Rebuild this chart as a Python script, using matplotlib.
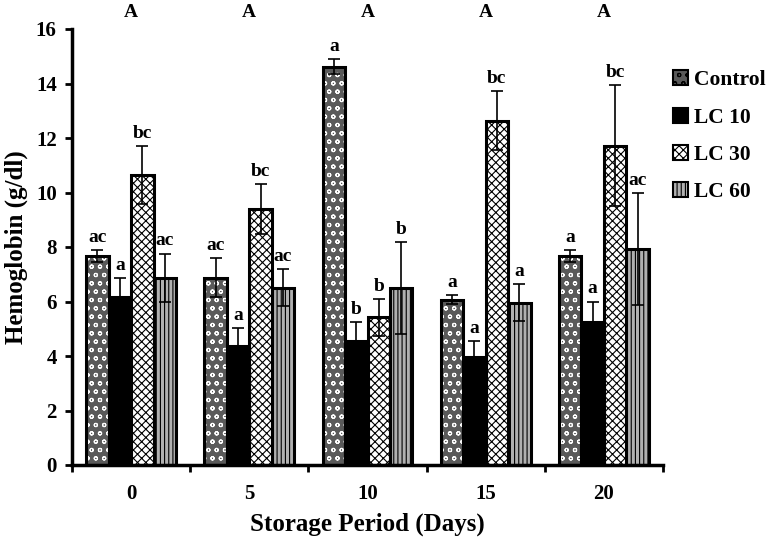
import numpy as np
import matplotlib
matplotlib.use('Agg')
import matplotlib.pyplot as plt
from matplotlib.patches import Patch

plt.rcParams['font.family'] = ['Liberation Serif', 'DejaVu Serif']
plt.rcParams['font.weight'] = 'bold'
plt.rcParams['hatch.linewidth'] = 0.8

days = ['0', '5', '10', '15', '20']
series = ['Control', 'LC 10', 'LC 30', 'LC 60']

control = [7.67, 6.88, 14.62, 6.07, 7.67]
lc10 = [6.15, 4.35, 4.55, 3.98, 5.25]
lc30 = [10.63, 9.38, 5.42, 12.63, 11.72]
lc60 = [6.88, 6.5, 6.5, 5.95, 7.93]

control_err = [0.23, 0.7, 0.28, 0.16, 0.22]
lc10_err = [0.7, 0.66, 0.7, 0.58, 0.75]
lc30_err = [1.07, 0.92, 0.67, 1.08, 2.22]
lc60_err = [0.88, 0.68, 1.68, 0.68, 2.05]

control_let = ['ac', 'ac', 'a', 'a', 'a']
lc10_let = ['a', 'a', 'b', 'a', 'a']
lc30_let = ['bc', 'bc', 'b', 'bc', 'bc']
lc60_let = ['ac', 'ac', 'b', 'a', 'ac']
top_let = ['A', 'A', 'A', 'A', 'A']

vals = [control, lc10, lc30, lc60]
errs = [control_err, lc10_err, lc30_err, lc60_err]
lets = [control_let, lc10_let, lc30_let, lc60_let]
faces = ['#5a5a5a', 'black', 'white', '#b0b0b0']
hatch_cols = ['white', 'black', 'black', 'black']
hatches = ['oo', None, 'xxxx', '||||']

fig = plt.figure(figsize=(7.72, 5.43), dpi=100)
ax = fig.add_axes([72 / 772, 78 / 543, 591 / 772, 436 / 543])

x = np.arange(len(days))
w = 0.19
offs = [-1.5, -0.5, 0.5, 1.5]

for i in range(4):
    xs = x + offs[i] * w
    # hatched fill
    ax.bar(xs, vals[i], w, color=faces[i], hatch=hatches[i], edgecolor=hatch_cols[i], linewidth=0, zorder=2)
    # thick outline
    ax.bar(xs, vals[i], w, fill=False, edgecolor='black', linewidth=2.2, zorder=3)
    ax.errorbar(xs, vals[i], yerr=errs[i], fmt='none', ecolor='black', elinewidth=1.2,
                capsize=4, capthick=1.2, zorder=4)
    for j in range(len(days)):
        ax.annotate(lets[i][j], (xs[j], vals[i][j] + errs[i][j]), xytext=(0, 3),
                    textcoords='offset points', ha='center', va='bottom',
                    fontsize=14, fontweight='bold')

for j in range(len(days)):
    ax.text(x[j], 16.3, top_let[j], ha='center', va='bottom', fontsize=14, fontweight='bold')

ax.set_xlim(-0.5, 4.5)
ax.set_ylim(0, 16)
ax.set_yticks(np.arange(0, 17, 2))
ax.set_xticks(x)
ax.set_xticklabels(days)
ax.set_xticks(np.arange(-0.5, 4.6, 1), minor=True)
ax.tick_params(axis='x', which='major', length=0, pad=14, labelsize=15)
ax.tick_params(axis='x', which='minor', length=5, width=2, direction='out')
ax.tick_params(axis='y', length=5, width=2, labelsize=15, pad=6)
for lab in ax.get_xticklabels() + ax.get_yticklabels():
    lab.set_fontweight('bold')

ax.spines['top'].set_visible(False)
ax.spines['right'].set_visible(False)
ax.spines['left'].set_linewidth(2.5)
ax.spines['bottom'].set_linewidth(2.5)

ax.set_ylabel('Hemoglobin (g/dl)', fontsize=18, fontweight='bold', labelpad=6)
ax.set_xlabel('Storage Period (Days)', fontsize=18, fontweight='bold', labelpad=6)

handles = [Patch(facecolor=faces[i], hatch=hatches[i], edgecolor='black', linewidth=1.5) for i in range(4)]
fig.legend(handles, series, loc='upper left', bbox_to_anchor=(669 / 772, 1 - 66 / 543),
           frameon=False, prop={'weight': 'bold', 'size': 15.5}, handlelength=0.7,
           handleheight=0.7, handletextpad=0.25, labelspacing=0.8, borderaxespad=0,
           borderpad=0.2)

fig.savefig('out.png', dpi=100)
